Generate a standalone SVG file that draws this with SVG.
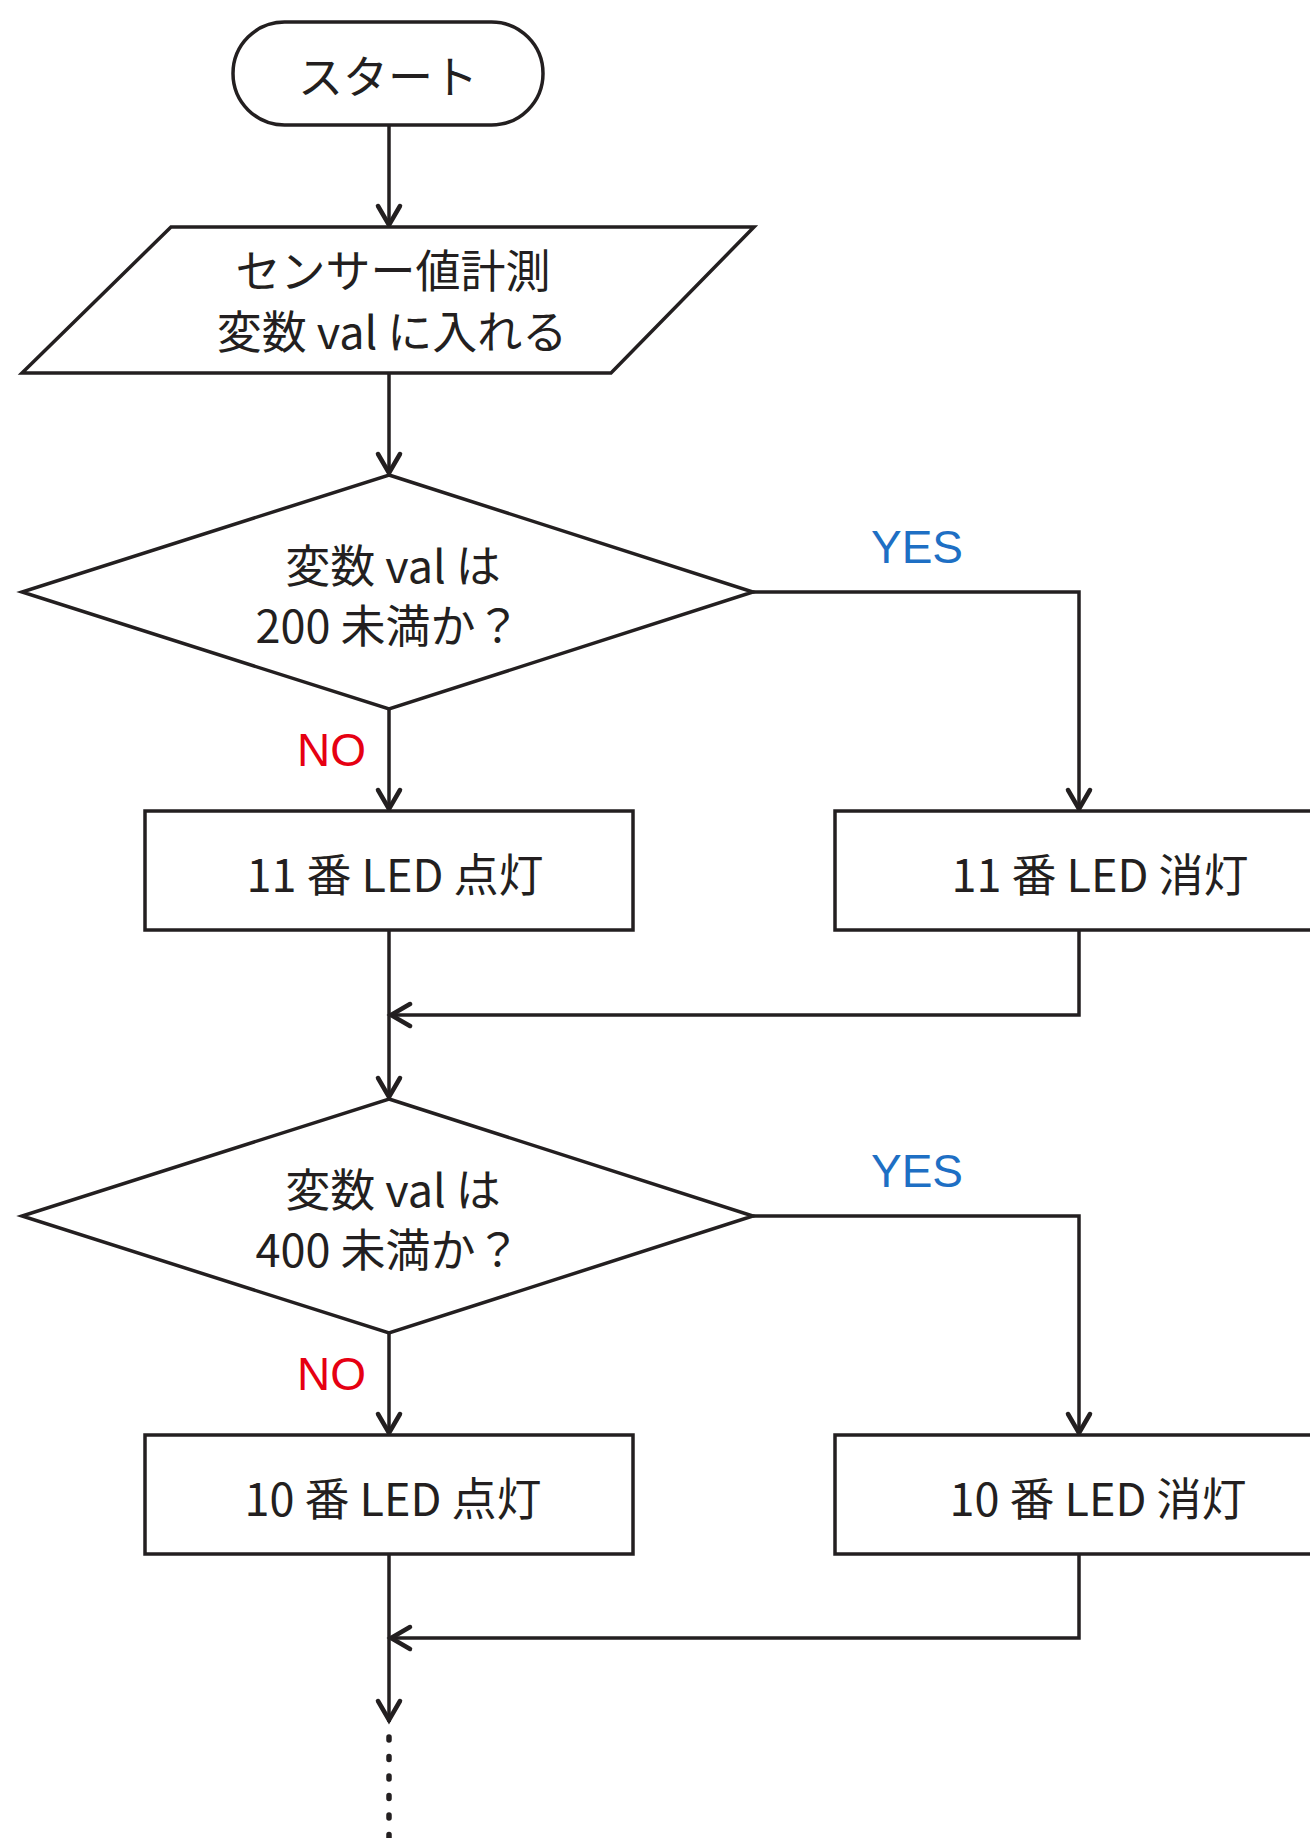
<svg xmlns="http://www.w3.org/2000/svg" width="1310" height="1838" viewBox="0 0 1310 1838">
<style>
.shape{fill:#fff;stroke:#231f20;stroke-width:3.5;stroke-linejoin:miter}
.conn{fill:none;stroke:#231f20;stroke-width:3.5}
.t{font-family:"Noto Sans CJK JP","Noto Sans",sans-serif;font-size:45px;font-weight:400;fill:#231f20;text-anchor:middle}
.yes{font-family:"Liberation Sans","Noto Sans",sans-serif;font-size:46px;fill:#1e6fc4}
.no{font-family:"Liberation Sans","Noto Sans",sans-serif;font-size:46px;fill:#e60012}
</style>
<defs>
<marker id="arr" viewBox="-28 -16 32 32" refX="0" refY="0" markerWidth="32" markerHeight="32" markerUnits="userSpaceOnUse" orient="auto">
<path d="M-21,-11 L-2,0 L-21,11" fill="none" stroke="#231f20" stroke-width="4.5" stroke-linecap="round" stroke-linejoin="miter"/>
</marker>
</defs>
<rect width="1310" height="1838" fill="#fff"/>
<g id="connectors">
<line class="conn" x1="389" y1="125" x2="389" y2="227" marker-end="url(#arr)"/>
<line class="conn" x1="389" y1="373" x2="389" y2="475" marker-end="url(#arr)"/>
<line class="conn" x1="389" y1="709" x2="389" y2="811" marker-end="url(#arr)"/>
<polyline class="conn" points="753,592 1079,592 1079,811" marker-end="url(#arr)"/>
<line class="conn" x1="389" y1="930" x2="389" y2="1099" marker-end="url(#arr)"/>
<polyline class="conn" points="1079,930 1079,1015 389,1015" marker-end="url(#arr)"/>
<line class="conn" x1="389" y1="1333" x2="389" y2="1435" marker-end="url(#arr)"/>
<polyline class="conn" points="753,1216 1079,1216 1079,1435" marker-end="url(#arr)"/>
<line class="conn" x1="389" y1="1554" x2="389" y2="1722" marker-end="url(#arr)"/>
<polyline class="conn" points="1079,1554 1079,1638 389,1638" marker-end="url(#arr)"/>
<line x1="389" y1="1737" x2="389" y2="1840" stroke="#231f20" stroke-width="5.5" stroke-linecap="round" stroke-dasharray="3 16.5"/>
<text class="yes" x="871" y="563">YES</text>
<text class="no" x="297" y="766">NO</text>
<text class="yes" x="871" y="1187">YES</text>
<text class="no" x="297" y="1390">NO</text>
</g>
<g id="start">
<rect class="shape" x="233" y="22" width="310" height="103" rx="51.5" ry="51.5"/>
<text class="t" x="388" y="94">スタート</text>
</g>
<g id="input">
<polygon class="shape" points="171,227 754,227 611,373 22,373"/>
<text class="t" x="393" y="288">センサー値計測</text>
<text class="t" x="392" y="349">変数 val に入れる</text>
</g>
<g id="decision1">
<polygon class="shape" points="389,475 753,592 389,709 22,592"/>
<text class="t" x="393" y="583">変数 val は</text>
<text class="t" x="388" y="643">200 未満か？</text>
</g>
<g id="led11on">
<rect class="shape" x="145" y="811" width="488" height="119"/>
<text class="t" x="395" y="892">11 番 LED 点灯</text>
</g>
<g id="led11off">
<rect class="shape" x="835" y="811" width="520" height="119"/>
<text class="t" x="1100" y="892">11 番 LED 消灯</text>
</g>
<g id="decision2">
<polygon class="shape" points="389,1099 753,1216 389,1333 22,1216"/>
<text class="t" x="393" y="1207">変数 val は</text>
<text class="t" x="388" y="1267">400 未満か？</text>
</g>
<g id="led10on">
<rect class="shape" x="145" y="1435" width="488" height="119"/>
<text class="t" x="393" y="1516">10 番 LED 点灯</text>
</g>
<g id="led10off">
<rect class="shape" x="835" y="1435" width="520" height="119"/>
<text class="t" x="1098" y="1516">10 番 LED 消灯</text>
</g>
</svg>
